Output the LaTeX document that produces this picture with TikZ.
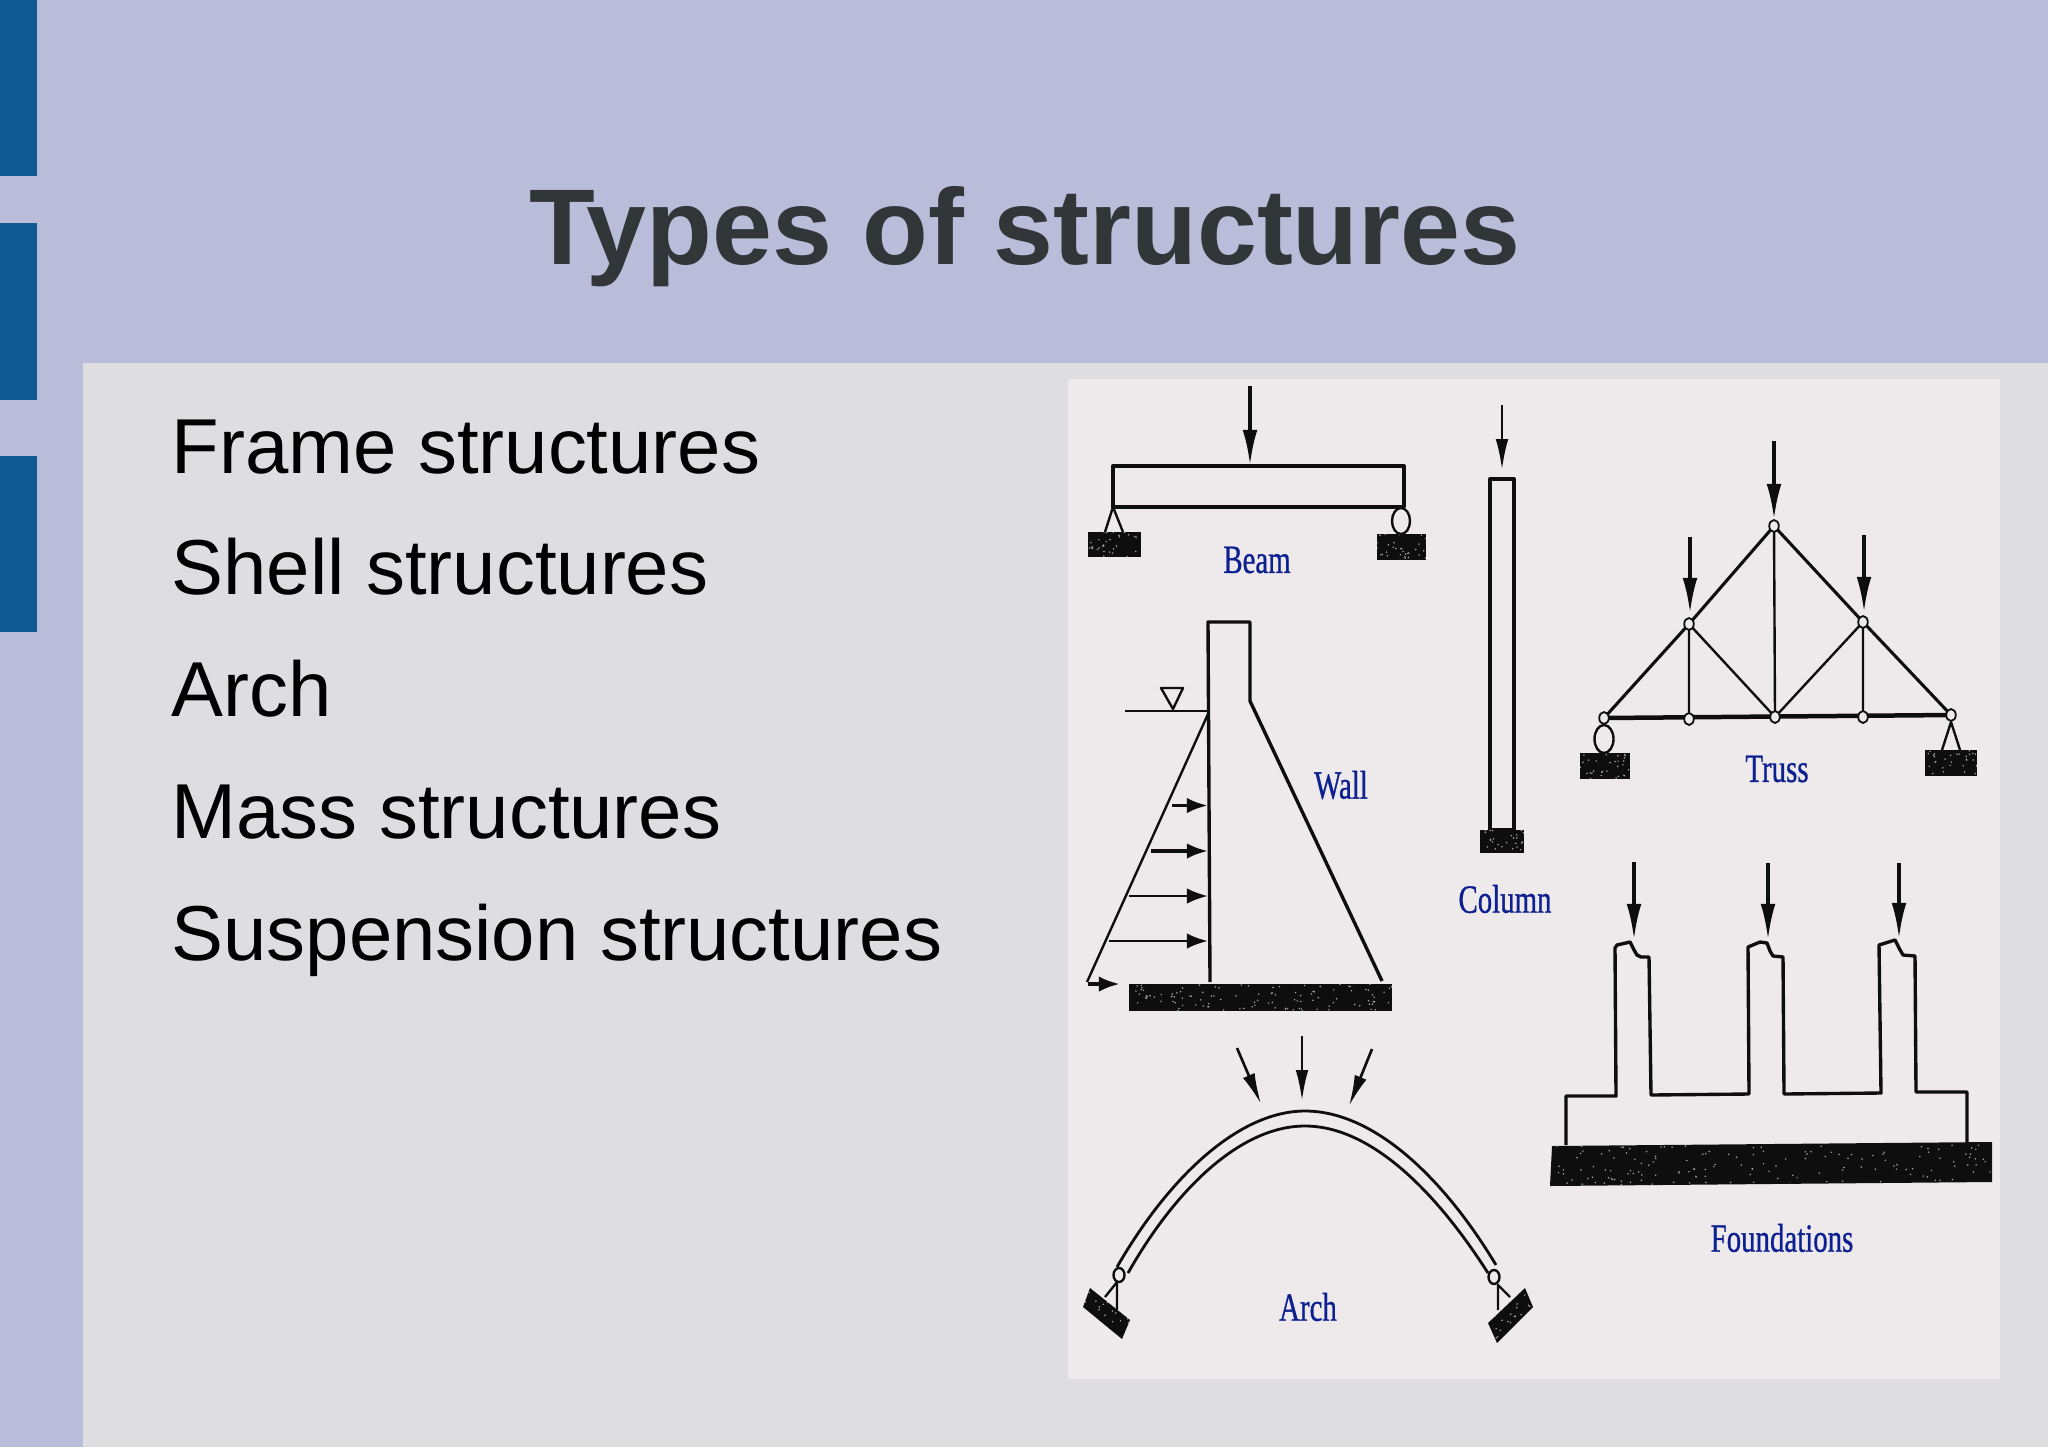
\documentclass[tikz,border=0pt]{standalone}
\usepackage{fontspec}
\setmainfont{Liberation Sans}
\newfontfamily\capfont[RawFeature={embolden=0.9}]{Liberation Serif}
\usetikzlibrary{arrows.meta}
\definecolor{bgblue}{HTML}{B9BDDA}
\definecolor{panelgrey}{HTML}{DEDDE0}
\definecolor{tabblue}{HTML}{0F5A92}
\definecolor{photo}{HTML}{EEEAEC}
\definecolor{titleink}{HTML}{333638}
\definecolor{capblue}{HTML}{0C2090}
\definecolor{ink}{HTML}{0E0E0E}
\pgfmathsetseed{4242}
\newcommand{\fpx}[1]{\fontsize{#1}{#1}\selectfont}
\newcommand{\speckle}[5]{%
  \foreach \i in {1,...,#5}{%
    \pgfmathsetmacro{\sx}{#1+rnd*(#3-#1)}%
    \pgfmathsetmacro{\sy}{#2+rnd*(#4-#2)}%
    \fill[white!65!black] (\sx,\sy) circle[radius=0.85];
  }}
\newcommand{\ground}[6]{% four corners, box of speckles, count
  \fill[ink] #1 -- #2 -- #3 -- #4 -- cycle;
  \begin{scope}
    \clip #1 -- #2 -- #3 -- #4 -- cycle;
    \speckle#5{#6}
  \end{scope}}
\tikzset{
  x=0.05cm,y=-0.05cm,
  wire/.style={draw=ink,line width=4.8pt,line join=round},
  thin wire/.style={draw=ink,line width=3.4pt,line join=round},
  load/.style={draw=ink,line width=5pt,-{Latex[length=50pt,width=21pt]}},
  lightload/.style={draw=ink,line width=3.8pt,-{Latex[length=44pt,width=18pt]}},
  press/.style={draw=ink,line width=4pt,-{Latex[length=30pt,width=22pt]}},
  caption/.style={text=capblue,font=\capfont\fpx{57},xscale=0.72,inner sep=0},
  pin/.style={circle,draw=ink,line width=2.6pt,fill=photo,minimum width=17pt,minimum height=17pt,inner sep=0,xscale=0.8},
  bullet/.style={anchor=base west,inner sep=0,text=black,font=\fpx{110.8}},
}
\begin{document}
\begin{tikzpicture}
\useasboundingbox (0,0) rectangle (2048,1447);
% slide
\fill[bgblue] (0,0) rectangle (2048,1447);
\fill[panelgrey] (83,363) rectangle (2048,1447);
\fill[tabblue] (0,0) rectangle (37,176);
\fill[tabblue] (0,223) rectangle (37,400);
\fill[tabblue] (0,456) rectangle (37,632);
\node[anchor=base west,inner sep=0,text=titleink,font=\bfseries\fpx{153.2}] (title) at (529,264) {Types of structures};
\node[bullet] (b1) at (171.5,473) {Frame structures};
\node[bullet] (b2) at (171.5,594.5) {Shell structures};
\node[bullet] (b3) at (171.5,716.5) {Arch};
\node[bullet] (b4) at (171.5,838) {Mass structures};
\node[bullet] (b5) at (171.5,960.5) {Suspension structures};
% picture
\fill[photo] (1068,379) rectangle (2000,1379);

% Beam
\draw[wire] (1113,466) rectangle (1404,507);
\draw[load] (1250,386) -- (1250,465);
\draw[thin wire] (1105,532) -- (1113,507) -- (1123,532);
\ground{(1088,532)}{(1141,532)}{(1141,557)}{(1088,557)}{{1088}{532}{1141}{557}}{30}
\ground{(1377,534)}{(1426,534)}{(1426,560)}{(1377,560)}{{1377}{534}{1426}{560}}{30}
\draw[thin wire] (1401,521) ellipse[x radius=9,y radius=13];
\node[caption] (beam) at (1257,560) {Beam};

% Column
\draw[wire] (1490,479) rectangle (1514,830);
\draw[lightload] (1502,405) -- (1502,470);
\ground{(1480,830)}{(1524,830)}{(1524,853)}{(1480,853)}{{1480}{830}{1524}{853}}{25}
\node[caption] (column) at (1505,899) {Column};

% Wall
\draw[wire] (1210,982) -- (1208,622) -- (1250,622) -- (1250,701) -- (1382,981);
\draw[thin wire] (1125,711) -- (1208,711);
\draw[thin wire] (1161,688) -- (1183,688) -- (1173,709) -- cycle;
\draw[thin wire] (1208,714) -- (1087,982);
\draw[press,line width=5.6pt] (1172,805.5) -- (1208,805.5);
\draw[press,line width=5pt] (1151,851) -- (1208,851);
\draw[press] (1129,896) -- (1208,896);
\draw[press] (1109,941) -- (1208,941);
\draw[press,line width=5.6pt] (1088,984) -- (1120,984);
\ground{(1129,984)}{(1392,984)}{(1392,1011)}{(1129,1011)}{{1129}{984}{1392}{1011}}{110}
\node[caption] (wall) at (1341,785) {Wall};

% Truss
\coordinate (tl) at (1604,718);
\coordinate (t2) at (1689,719);
\coordinate (t3) at (1775,717);
\coordinate (t4) at (1863,717);
\coordinate (tr) at (1951,715);
\coordinate (um) at (1689,624);
\coordinate (ua) at (1774,526);
\coordinate (un) at (1863,622);
\draw[wire,line width=4.4pt] (tl) -- (um) -- (ua) -- (un) -- (tr);
\draw[wire,line width=6.4pt] (tl) -- (tr);
\draw[thin wire] (um) -- (t2) (um) -- (t3) (ua) -- (t3) (un) -- (t3) (un) -- (t4);
\foreach \c in {tl,t2,t3,t4,tr,um,ua,un}{\node[pin] (pin\c) at (\c) {};}
\draw[load] (1774,441) -- (pinua.north);
\draw[load] (1690,537) -- (1690,613);
\draw[load] (1864,535) -- (1864,612);
\ground{(1580,753)}{(1630,753)}{(1630,779)}{(1580,779)}{{1580}{753}{1630}{779}}{30}
\ground{(1925,750)}{(1977,750)}{(1977,776)}{(1925,776)}{{1925}{750}{1977}{776}}{30}
\draw[thin wire] (1604,739) ellipse[x radius=9.5,y radius=14];
\draw[thin wire] (1942,750) -- (1951,722) -- (1960,750);
\node[caption] (truss) at (1777,769) {Truss};

% Foundations
\draw[wire] (1566,1145) -- (1566,1096) -- (1616,1096) -- (1615,948) -- (1617,945)
  -- (1630,942) -- (1634,950) -- (1637,955) -- (1641,957) -- (1649,957) -- (1651,1095) -- (1749,1094)
  -- (1748,947) -- (1760,942) -- (1767,943) -- (1770,951) -- (1773,956) -- (1783,957) -- (1784,1094) -- (1881,1093)
  -- (1879,945) -- (1895,940) -- (1899,948) -- (1903,955) -- (1915,956) -- (1916,1092) -- (1967,1092) -- (1967,1143);
\draw[load,line width=4.6pt] (1634,862) -- (1634,939);
\draw[load,line width=4.6pt] (1768,863) -- (1768,939);
\draw[load,line width=4.6pt] (1899,863) -- (1899,938);
\ground{(1552,1146)}{(1992,1142)}{(1992,1182)}{(1550,1186)}{{1552}{1145}{1992}{1185}}{150}
\node[caption] (foundations) at (1782,1238) {Foundations};

% Arch
\draw[wire,line width=4pt] (1117,1267) .. controls (1170,1175) and (1240,1111) .. (1305,1111) .. controls (1375,1111) and (1445,1180) .. (1496,1265);
\draw[wire,line width=4pt] (1128,1273) .. controls (1175,1190) and (1240,1126) .. (1305,1126) .. controls (1370,1126) and (1435,1190) .. (1488,1273);
\draw[thin wire,fill=photo] (1119,1275) ellipse[x radius=5.5,y radius=7];
\draw[thin wire,fill=photo] (1494,1277) ellipse[x radius=5.5,y radius=7];
\draw[thin wire] (1105,1297) -- (1117,1282) -- (1117,1310);
\draw[thin wire] (1510,1297) -- (1498,1285) -- (1498,1310);
\ground{(1090,1288)}{(1130,1320)}{(1122,1339)}{(1083,1307)}{{1083}{1288}{1130}{1339}}{35}
\ground{(1525,1288)}{(1533,1307)}{(1497,1343)}{(1488,1323)}{{1488}{1288}{1533}{1343}}{35}
\draw[lightload] (1302,1036) -- (1302,1101);
\draw[lightload] (1237,1048) -- (1261,1104);
\draw[lightload] (1372,1049) -- (1349,1106);
\node[caption] (arch) at (1308,1307) {Arch};
\end{tikzpicture}
\end{document}
